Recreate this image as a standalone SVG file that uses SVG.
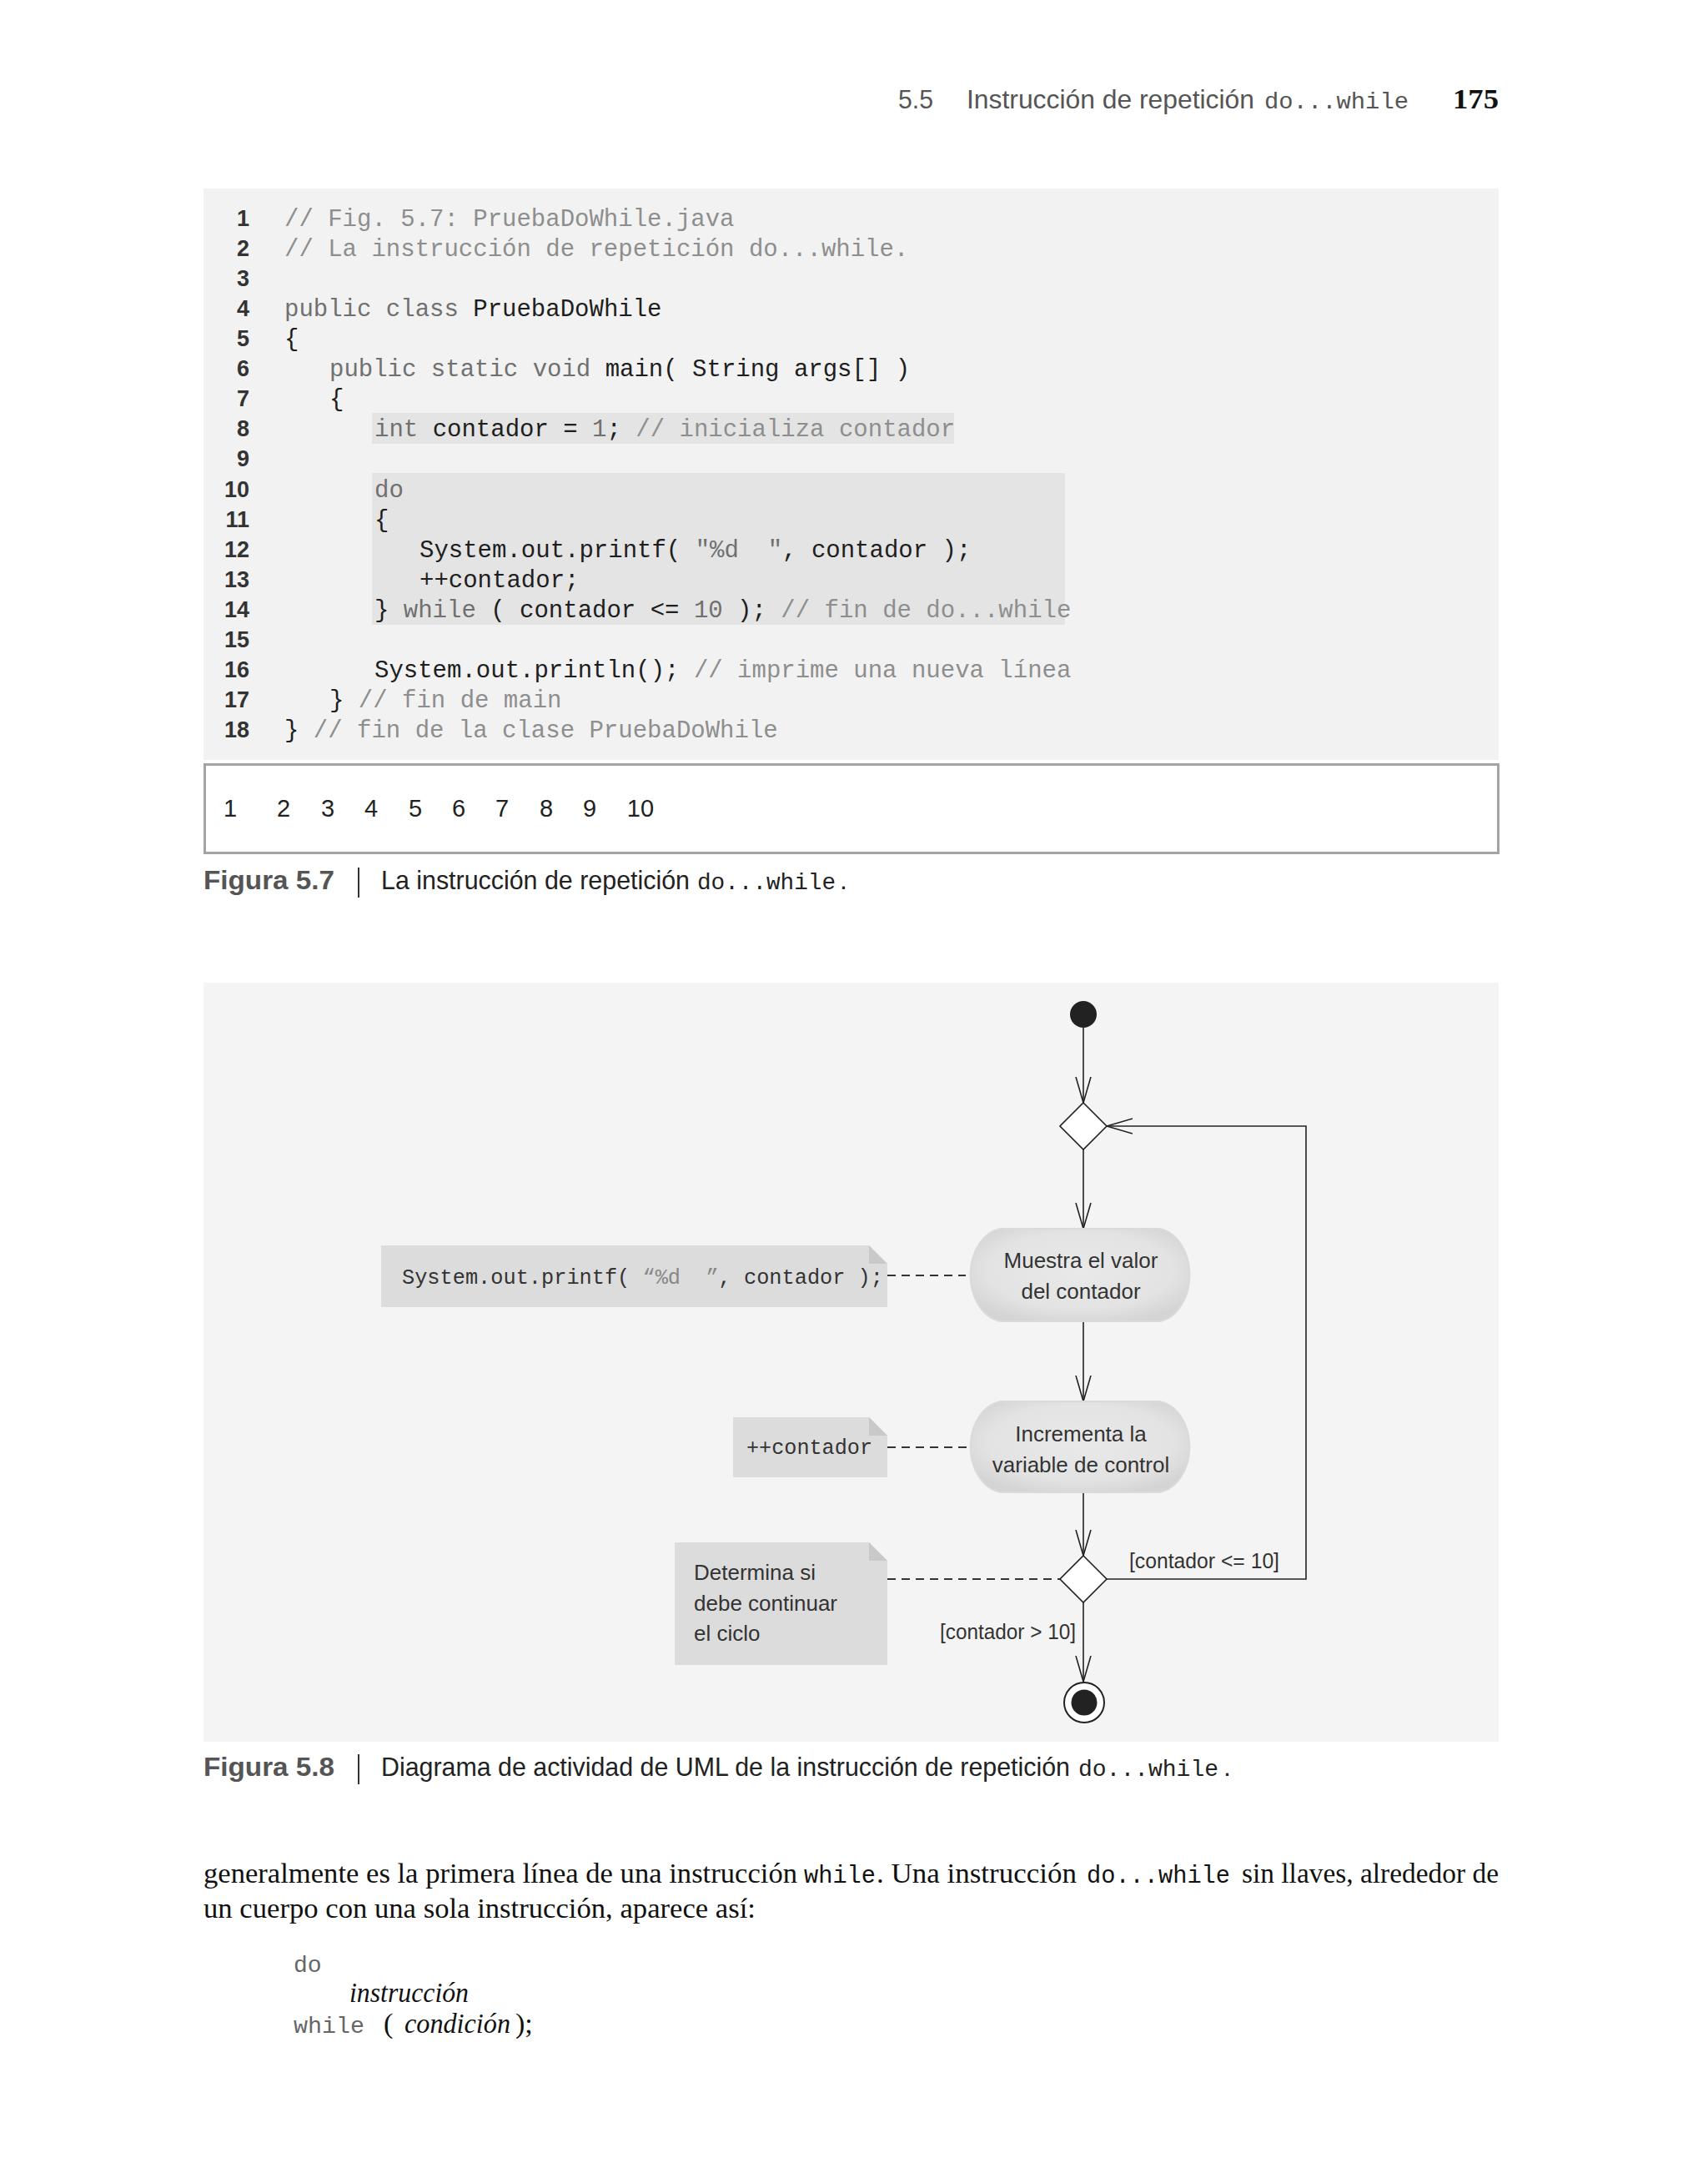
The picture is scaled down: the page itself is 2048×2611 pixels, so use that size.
<svg xmlns="http://www.w3.org/2000/svg" width="2048" height="2611" viewBox="0 0 2048 2611" xml:space="preserve">
<defs>
<style>
.mono{font-family:"Liberation Mono","DejaVu Sans Mono",monospace;white-space:pre}
.sans{font-family:"Liberation Sans","Noto Sans",sans-serif}
.serif{font-family:"Liberation Serif","DejaVu Serif",serif}
.code{font-size:29px}
.k{fill:#707070}
.c{fill:#8e8e8e}
.b{fill:#1e1e1e}
.ln{font-family:"Liberation Sans",sans-serif;font-weight:bold;font-size:27px;fill:#333;text-anchor:end}
.conn{fill:none;stroke:#222;stroke-width:1.6}
.dash{fill:none;stroke:#333;stroke-width:2.2;stroke-dasharray:10 7}
.note{fill:#dcdcdc}
.fold{fill:#c9c9c9}
.act{font-family:"Liberation Sans",sans-serif;font-size:26px;fill:#333;text-anchor:middle}
.ntxt{font-family:"Liberation Sans",sans-serif;font-size:26px;fill:#333}
.guard{font-family:"Liberation Sans",sans-serif;font-size:26px;fill:#333}
</style>
<marker id="arr" viewBox="0 0 32 20" refX="31" refY="10" markerWidth="32" markerHeight="20" markerUnits="userSpaceOnUse" orient="auto">
<path d="M0,1 L31,10 L0,19" fill="none" stroke="#222" stroke-width="1.6"/>
</marker>
<radialGradient id="actg" cx="50%" cy="45%" r="60%">
<stop offset="0" stop-color="#e9e9e9"/>
<stop offset="0.7" stop-color="#e3e3e3"/>
<stop offset="1" stop-color="#d4d4d4"/>
</radialGradient>
</defs>
<rect x="0" y="0" width="2048" height="2611" fill="#ffffff"/>
<g id="header">
<text class="sans" x="1077" y="130" font-size="32" fill="#555" textLength="42" lengthAdjust="spacingAndGlyphs">5.5</text>
<text class="sans" x="1159" y="130" font-size="32" fill="#555" textLength="345" lengthAdjust="spacingAndGlyphs">Instrucción de repetición</text>
<text class="mono" x="1516" y="130" font-size="28" fill="#555" textLength="173" lengthAdjust="spacingAndGlyphs">do...while</text>
<text class="serif" x="1742" y="130" font-size="34" font-weight="bold" fill="#111" textLength="55" lengthAdjust="spacingAndGlyphs">175</text>
</g>
<g id="code">
<rect x="244" y="226" width="1553" height="685" fill="#f2f2f2"/>
<rect x="446" y="495" width="698" height="37" fill="#e4e4e4"/>
<rect x="446" y="567" width="831" height="182" fill="#e4e4e4"/>
<g>
<text class="ln" x="299" y="271">1</text>
<text class="ln" x="299" y="307">2</text>
<text class="ln" x="299" y="343">3</text>
<text class="ln" x="299" y="379">4</text>
<text class="ln" x="299" y="415">5</text>
<text class="ln" x="299" y="451">6</text>
<text class="ln" x="299" y="487">7</text>
<text class="ln" x="299" y="523">8</text>
<text class="ln" x="299" y="559">9</text>
<text class="ln" x="299" y="596">10</text>
<text class="ln" x="299" y="632">11</text>
<text class="ln" x="299" y="668">12</text>
<text class="ln" x="299" y="704">13</text>
<text class="ln" x="299" y="740">14</text>
<text class="ln" x="299" y="776">15</text>
<text class="ln" x="299" y="812">16</text>
<text class="ln" x="299" y="848">17</text>
<text class="ln" x="299" y="884">18</text>
</g>
<g class="mono code">
<text x="341" y="271" class="c">// Fig. 5.7: PruebaDoWhile.java</text>
<text x="341" y="307" class="c">// La instrucción de repetición do...while.</text>
<text x="341" y="379"><tspan class="k">public class </tspan><tspan class="b">PruebaDoWhile</tspan></text>
<text x="341" y="415" class="b">{</text>
<text x="395" y="451"><tspan class="k">public static void </tspan><tspan class="b">main( String args[] )</tspan></text>
<text x="395" y="487" class="b">{</text>
<text x="449" y="523"><tspan class="k">int </tspan><tspan class="b">contador = </tspan><tspan class="k">1</tspan><tspan class="b">; </tspan><tspan class="c">// inicializa contador</tspan></text>
<text x="449" y="596" class="k">do</text>
<text x="449" y="632" class="b">{</text>
<text x="503" y="668"><tspan class="b">System.out.printf(&#160;</tspan><tspan class="k">"%d&#160;&#160;"</tspan><tspan class="b">, contador );</tspan></text>
<text x="503" y="704" class="b">++contador;</text>
<text x="449" y="740"><tspan class="b">} </tspan><tspan class="k">while</tspan><tspan class="b"> ( contador &lt;= </tspan><tspan class="k">10</tspan><tspan class="b"> ); </tspan><tspan class="c">// fin de do...while</tspan></text>
<text x="449" y="812"><tspan class="b">System.out.println(); </tspan><tspan class="c">// imprime una nueva línea</tspan></text>
<text x="395" y="848"><tspan class="b">} </tspan><tspan class="c">// fin de main</tspan></text>
<text x="341" y="884"><tspan class="b">} </tspan><tspan class="c">// fin de la clase PruebaDoWhile</tspan></text>
</g>
</g>
<g id="output">
<rect x="245.5" y="916.5" width="1551" height="106" fill="#ffffff" stroke="#a3a3a3" stroke-width="3"/>
<g class="sans" font-size="29" fill="#222" text-anchor="middle">
<text x="276" y="979">1</text>
<text x="340" y="979">2</text>
<text x="393" y="979">3</text>
<text x="445" y="979">4</text>
<text x="498" y="979">5</text>
<text x="550" y="979">6</text>
<text x="602" y="979">7</text>
<text x="655" y="979">8</text>
<text x="707" y="979">9</text>
<text x="768" y="979">10</text>
</g>
</g>
<g id="caption57">
<text class="sans" x="244" y="1066" font-size="32" font-weight="bold" fill="#555" textLength="157" lengthAdjust="spacingAndGlyphs">Figura 5.7</text>
<line x1="430" y1="1040" x2="430" y2="1076" stroke="#333" stroke-width="2"/>
<text class="sans" x="457" y="1066" font-size="32" fill="#222" textLength="370" lengthAdjust="spacingAndGlyphs">La instrucción de repetición</text>
<text class="mono" x="836" y="1066" font-size="28" fill="#222" textLength="166" lengthAdjust="spacingAndGlyphs">do...while</text>
<text class="sans" x="1007" y="1066" font-size="32" fill="#222">.</text>
</g>
<rect x="244" y="1178" width="1553" height="910" fill="#f4f4f4"/>
<g id="connectors">
<line class="conn" x1="1299" y1="1232" x2="1299" y2="1322" marker-end="url(#arr)"/>
<line class="conn" x1="1299" y1="1378" x2="1299" y2="1473" marker-end="url(#arr)"/>
<line class="conn" x1="1299" y1="1584" x2="1299" y2="1680" marker-end="url(#arr)"/>
<line class="conn" x1="1299" y1="1789" x2="1299" y2="1865" marker-end="url(#arr)"/>
<line class="conn" x1="1299" y1="1921" x2="1299" y2="2016" marker-end="url(#arr)"/>
<path class="conn" d="M1327,1893 H1566 V1350 H1327" stroke-width="2" marker-end="url(#arr)"/>
<line class="dash" x1="1064" y1="1529" x2="1158" y2="1529"/>
<line class="dash" x1="1064" y1="1735" x2="1160" y2="1735"/>
<line class="dash" x1="1064" y1="1893" x2="1271" y2="1893"/>
</g>
<g id="initial">
<circle cx="1299" cy="1216" r="16" fill="#222"/>
</g>
<g id="merge">
<polygon points="1299,1322 1327,1350 1299,1378 1271,1350" fill="#ffffff" stroke="#222" stroke-width="1.6"/>
</g>
<g id="action1">
<path d="M1200,1473 H1390 A42,56 0 0 1 1390,1584 H1200 A42,56 0 0 1 1200,1473 Z" fill="url(#actg)" stroke="#dadada" stroke-width="2"/>
<text class="act" x="1296" y="1520">Muestra el valor</text>
<text class="act" x="1296" y="1557">del contador</text>
</g>
<g id="note1">
<path class="note" d="M457,1493 H1042 L1064,1515 V1567 H457 Z"/>
<path class="fold" d="M1042,1493 L1064,1515 H1042 Z"/>
<text class="mono" x="482" y="1539" font-size="25" textLength="577" lengthAdjust="spacingAndGlyphs"><tspan fill="#333">System.out.printf(&#160;</tspan><tspan fill="#888">“%d&#160;&#160;”</tspan><tspan fill="#333">, contador );</tspan></text>
</g>
<g id="action2">
<path d="M1200,1680 H1390 A42,55 0 0 1 1390,1789 H1200 A42,55 0 0 1 1200,1680 Z" fill="url(#actg)" stroke="#dadada" stroke-width="2"/>
<text class="act" x="1296" y="1728">Incrementa la</text>
<text class="act" x="1296" y="1765">variable de control</text>
</g>
<g id="note2">
<path class="note" d="M879,1699 H1042 L1064,1721 V1771 H879 Z"/>
<path class="fold" d="M1042,1699 L1064,1721 H1042 Z"/>
<text class="mono" x="895" y="1743" font-size="25" fill="#333" textLength="151" lengthAdjust="spacingAndGlyphs">++contador</text>
</g>
<g id="decision">
<polygon points="1299,1865 1327,1893 1299,1921 1271,1893" fill="#ffffff" stroke="#222" stroke-width="1.6"/>
</g>
<g id="note3">
<path class="note" d="M809,1849 H1042 L1064,1871 V1996 H809 Z"/>
<path class="fold" d="M1042,1849 L1064,1871 H1042 Z"/>
<text class="ntxt" x="832" y="1894">Determina si</text>
<text class="ntxt" x="832" y="1931">debe continuar</text>
<text class="ntxt" x="832" y="1967">el ciclo</text>
</g>
<g id="guards">
<text class="guard" x="1354" y="1880" textLength="180" lengthAdjust="spacingAndGlyphs">[contador &lt;= 10]</text>
<text class="guard" x="1127" y="1965" textLength="163" lengthAdjust="spacingAndGlyphs">[contador &gt; 10]</text>
</g>
<g id="final">
<circle cx="1300" cy="2041" r="24" fill="#ffffff" stroke="#222" stroke-width="2"/>
<circle cx="1300" cy="2041" r="15.5" fill="#222"/>
</g>
<g id="caption58">
<text class="sans" x="244" y="2129" font-size="32" font-weight="bold" fill="#555" textLength="157" lengthAdjust="spacingAndGlyphs">Figura 5.8</text>
<line x1="430" y1="2103" x2="430" y2="2139" stroke="#333" stroke-width="2"/>
<text class="sans" x="457" y="2129" font-size="32" fill="#222" textLength="826" lengthAdjust="spacingAndGlyphs">Diagrama de actividad de UML de la instrucción de repetición</text>
<text class="mono" x="1293" y="2129" font-size="28" fill="#222" textLength="168" lengthAdjust="spacingAndGlyphs">do...while</text>
<text class="sans" x="1467" y="2129" font-size="32" fill="#222">.</text>
</g>
<g id="body">
<text class="serif" x="244" y="2257" font-size="34" fill="#111" textLength="712" lengthAdjust="spacingAndGlyphs">generalmente es la primera línea de una instrucción</text>
<text class="mono" x="964" y="2257" font-size="29" fill="#111" textLength="86" lengthAdjust="spacingAndGlyphs">while</text>
<text class="serif" x="1051" y="2257" font-size="34" fill="#111" textLength="240" lengthAdjust="spacingAndGlyphs">. Una instrucción</text>
<text class="mono" x="1303" y="2257" font-size="29" fill="#111" textLength="172" lengthAdjust="spacingAndGlyphs">do...while</text>
<text class="serif" x="1489" y="2257" font-size="34" fill="#111" textLength="308" lengthAdjust="spacingAndGlyphs">sin llaves, alrededor de</text>
<text class="serif" x="244" y="2299" font-size="34" fill="#111" textLength="662" lengthAdjust="spacingAndGlyphs">un cuerpo con una sola instrucción, aparece así:</text>
<text class="mono" x="352" y="2364" font-size="28" fill="#666">do</text>
<text class="serif" x="419" y="2400" font-size="33" font-style="italic" fill="#111" textLength="143" lengthAdjust="spacingAndGlyphs">instrucción</text>
<text class="mono" x="352" y="2437" font-size="28" fill="#666" textLength="85" lengthAdjust="spacingAndGlyphs">while</text>
<text class="serif" x="460" y="2437" font-size="34" fill="#111">(</text>
<text class="serif" x="485" y="2437" font-size="33" font-style="italic" fill="#111" textLength="127" lengthAdjust="spacingAndGlyphs">condición</text>
<text class="serif" x="618" y="2437" font-size="34" fill="#111">);</text>
</g>
</svg>
